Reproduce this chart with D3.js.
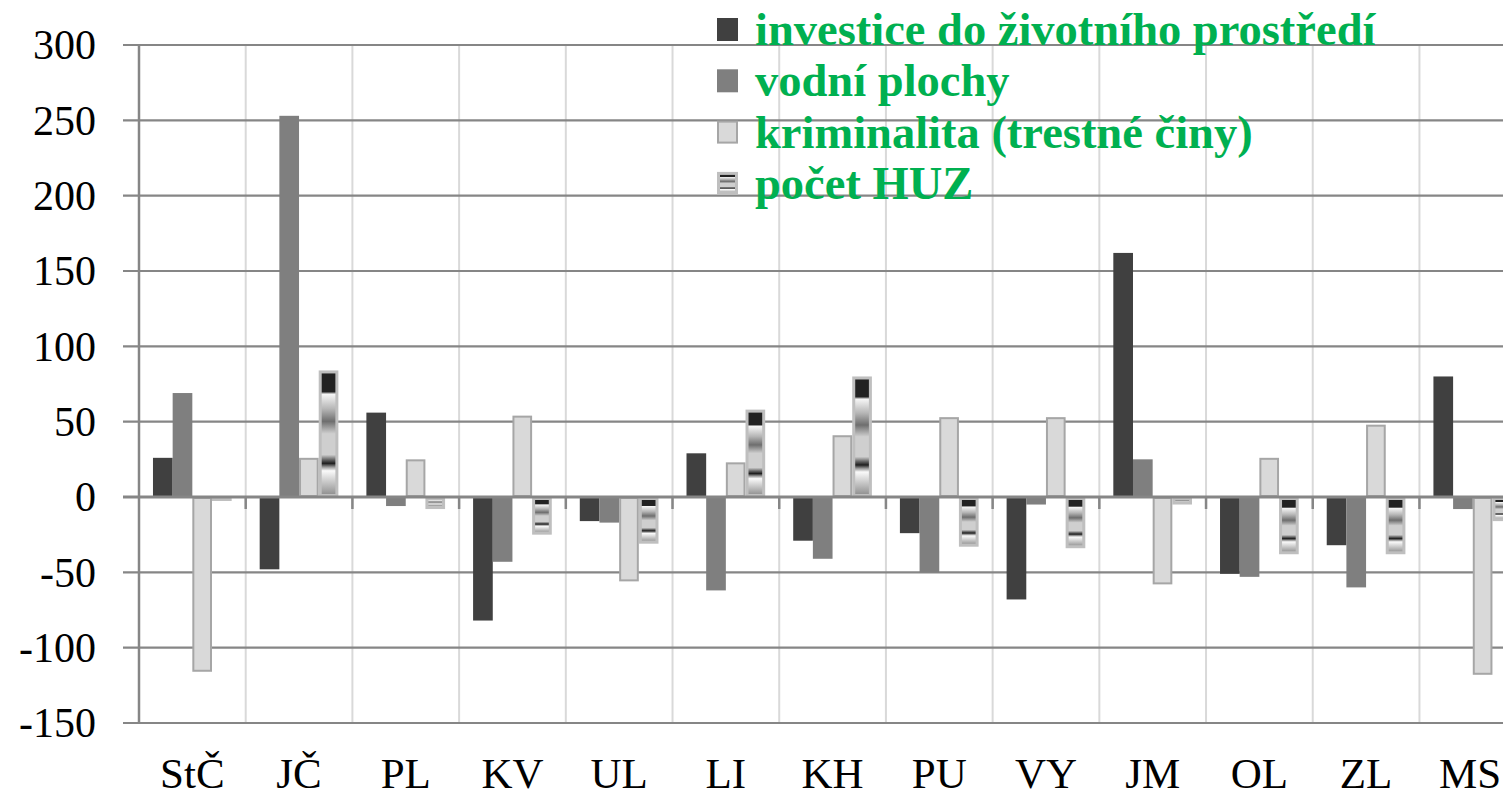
<!DOCTYPE html>
<html>
<head>
<meta charset="utf-8">
<script src="https://cdn.jsdelivr.net/npm/d3@7"></script>
<style>
  html, body { margin: 0; padding: 0; background: #fff; overflow: hidden; }
  svg { display: block; font-family: "Liberation Serif", "DejaVu Serif", serif; }
</style>
</head>
<body>
<svg id="chart" width="1503" height="799"></svg>
<script>
// ------ data ------
const regions = ['StČ', 'JČ', 'PL', 'KV', 'UL', 'LI', 'KH', 'PU', 'VY', 'JM', 'OL', 'ZL', 'MS']
const seriesNames = ['investice do životního prostředí', 'vodní plochy', 'kriminalita (trestné činy)', 'počet HUZ']
const investice = [26, -48, 56, -82, -16, 29, -29, -24, -68, 162, -51, -32, 80]
const vodniPlochy = [69, 253, -6, -43, -17, -62, -41, -50, -5, 25, -53, -60, -8]
const kriminalita = [-116, 26, 25, 54, -56, 23, 41, 53, 53, -58, 26, 48, -118]
const pocetHUZ = [-2, 84, -8, -25, -31, 58, 80, -33, -34, -5, -38, -38, -16]
const yTicks = [-150, -100, -50, 0, 50, 100, 150, 200, 250, 300]

const series = [investice, vodniPlochy, kriminalita, pocetHUZ]
const fills = ['#404040', '#7f7f7f', '#d9d9d9', 'url(#huzGrad)']
const strokes = ['none', 'none', '#a6a6a6', '#bfbfbf']
const strokeW = [0, 0, 2, 3]

const svg = d3.select('#chart')

// ------ gradient for the HUZ bars ------
const grad = svg.append('defs').append('linearGradient')
  .attr('id', 'huzGrad')
  .attr('x1', 0).attr('y1', 0).attr('x2', 0).attr('y2', 1)
const stops = [
  [0, '#222'], [0.16, '#222'], [0.18, '#f6f6f6'], [0.3, '#b5b5b5'], [0.4, '#6e6e6e'],
  [0.48, '#bcbcbc'], [0.5, '#cfcfcf'], [0.67, '#cfcfcf'], [0.71, '#666'], [0.74, '#1e1e1e'],
  [0.77, '#999'], [0.8, '#fafafa'], [1, '#8c8c8c']
]
stops.forEach(s => grad.append('stop').attr('offset', s[0]).attr('stop-color', s[1]))

// ------ scales ------
const x0 = d3.scaleBand().domain(regions).range([139, 139 + 13 * 106.7])
  .paddingInner(0.2625).paddingOuter(0.131)
const x1 = d3.scaleBand().domain(d3.range(4)).range([0, x0.bandwidth()])
const y = d3.scaleLinear().domain([-150, 300]).range([723, 45])

// ------ grid ------
const step = x0.step()
svg.append('g').selectAll('line')
  .data(d3.range(1, 13))
  .join('line')
  .attr('x1', k => 139 + k * step).attr('x2', k => 139 + k * step)
  .attr('y1', y(300)).attr('y2', y(-150))
  .attr('stroke', '#d9d9d9').attr('stroke-width', 2)

svg.append('g').selectAll('line')
  .data(yTicks)
  .join('line')
  .attr('x1', 123).attr('x2', 1503)
  .attr('y1', d => y(d)).attr('y2', d => y(d))
  .attr('stroke', '#868686').attr('stroke-width', 2.2)

// ------ bars ------
const groups = svg.append('g').selectAll('g')
  .data(regions)
  .join('g')
  .attr('transform', d => `translate(${x0(d)},0)`)

groups.selectAll('rect')
  .data((d, i) => series.map((s, j) => ({ j: j, v: s[i] })))
  .join('rect')
  .attr('x', d => x1(d.j) + strokeW[d.j] / 2)
  .attr('width', d => x1.bandwidth() - strokeW[d.j])
  .attr('y', d => Math.min(y(d.v), y(0)) + strokeW[d.j] / 2)
  .attr('height', d => Math.max(1, Math.abs(y(d.v) - y(0)) - strokeW[d.j]))
  .attr('fill', d => fills[d.j])
  .attr('stroke', d => strokes[d.j])
  .attr('stroke-width', d => strokeW[d.j])

// ------ axes ------
svg.append('line')
  .attr('x1', 123).attr('x2', 1503).attr('y1', y(0)).attr('y2', y(0))
  .attr('stroke', '#868686').attr('stroke-width', 3)
svg.append('g').selectAll('line')
  .data(d3.range(1, 13))
  .join('line')
  .attr('x1', k => 139 + k * step).attr('x2', k => 139 + k * step)
  .attr('y1', y(0)).attr('y2', y(0) + 12)
  .attr('stroke', '#868686').attr('stroke-width', 2.5)
svg.append('line')
  .attr('x1', 139).attr('x2', 139).attr('y1', y(300)).attr('y2', y(-150))
  .attr('stroke', '#868686').attr('stroke-width', 2.5)

svg.append('g').selectAll('text')
  .data(yTicks)
  .join('text')
  .attr('x', 96).attr('y', d => y(d))
  .attr('dy', '0.34em')
  .attr('text-anchor', 'end')
  .attr('font-size', 42)
  .attr('fill', '#000')
  .text(d => d)

svg.append('g').selectAll('text')
  .data(regions)
  .join('text')
  .attr('x', d => Math.min(x0(d) + x0.bandwidth() / 2, 1470))
  .attr('y', 788)
  .attr('text-anchor', 'middle')
  .attr('font-size', 43)
  .attr('fill', '#000')
  .text(d => d)

// ------ legend ------
const legend = svg.append('g').selectAll('g')
  .data(seriesNames)
  .join('g')
  .attr('transform', (d, i) => `translate(717,${45 + i * 51.3})`)

legend.append('rect')
  .attr('x', (d, i) => strokeW[i] / 2).attr('y', (d, i) => -27 + strokeW[i] / 2)
  .attr('width', (d, i) => 21 - strokeW[i]).attr('height', (d, i) => 23 - strokeW[i])
  .attr('fill', (d, i) => fills[i])
  .attr('stroke', (d, i) => strokes[i])
  .attr('stroke-width', (d, i) => strokeW[i])

legend.append('text')
  .attr('x', 38).attr('y', 0)
  .attr('font-size', 46.5)
  .attr('font-weight', 'bold')
  .attr('fill', '#00b050')
  .text(d => d)
</script>
</body>
</html>
